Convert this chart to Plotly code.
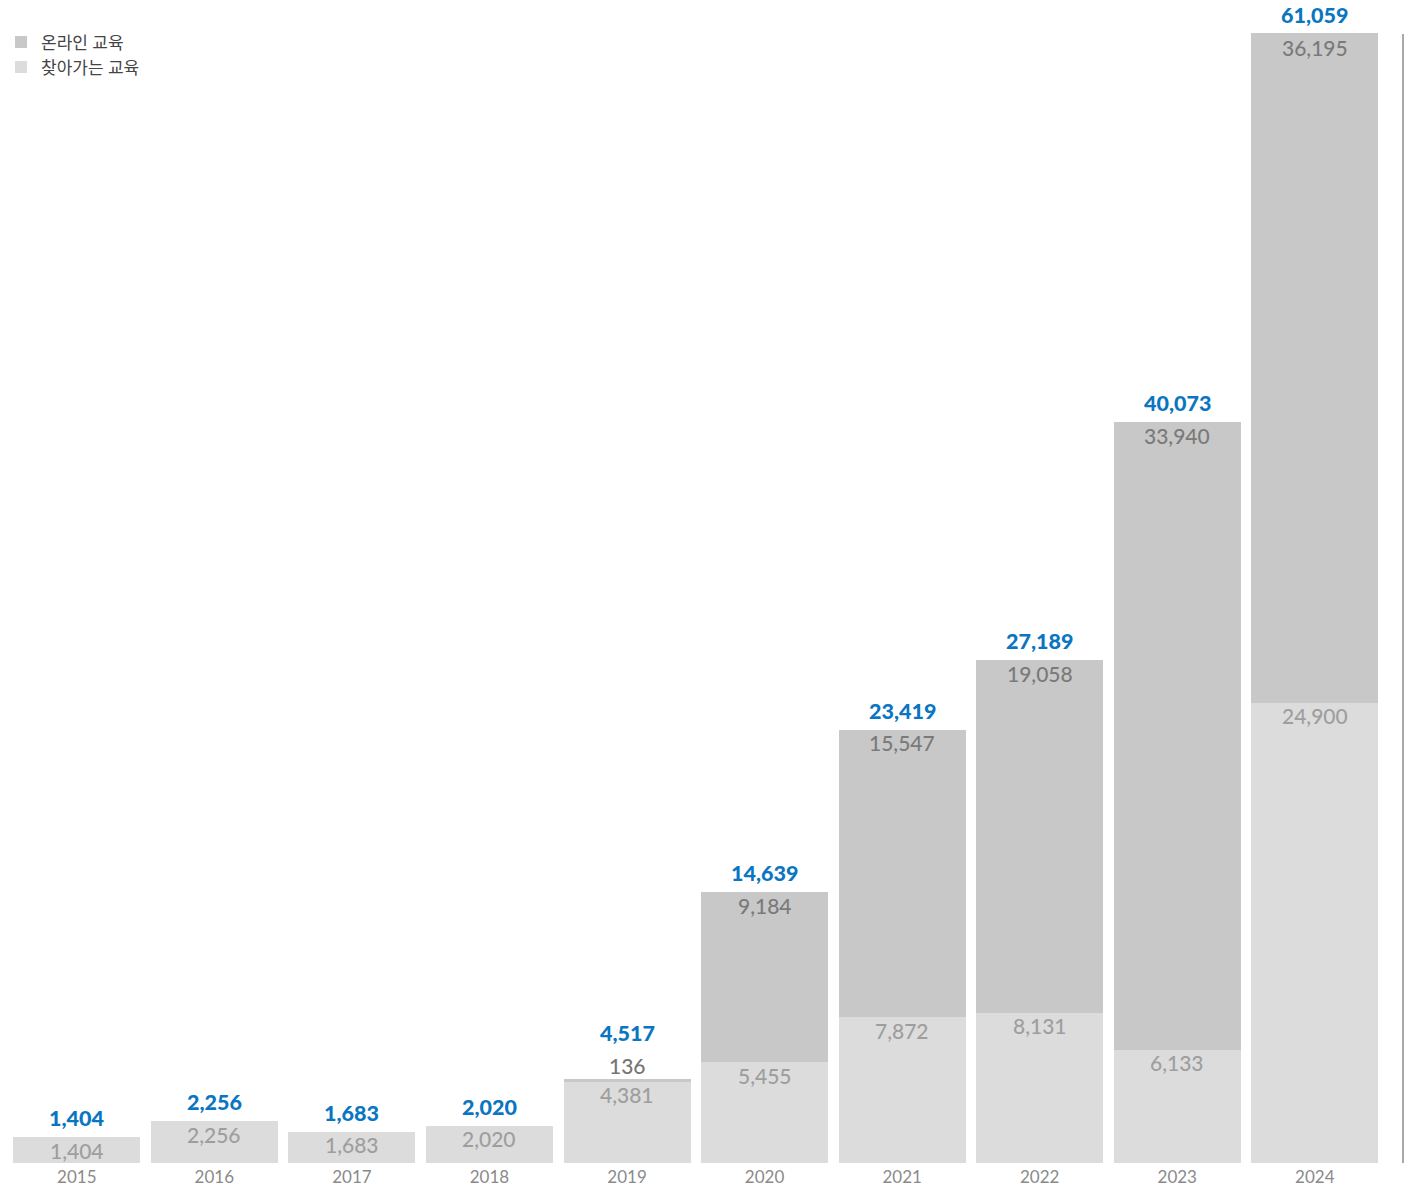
import plotly.graph_objects as go

years = ["2015", "2016", "2017", "2018", "2019", "2020", "2021", "2022", "2023", "2024"]
offline = [1404, 2256, 1683, 2020, 4381, 5455, 7872, 8131, 6133, 24900]
online = [0, 0, 0, 0, 136, 9184, 15547, 19058, 33940, 36195]
totals = [1404, 2256, 1683, 2020, 4517, 14639, 23419, 27189, 40073, 61059]

FONT = "Lato, 'Noto Sans CJK KR', sans-serif"
NUMFONT = "Lato, 'Noto Sans CJK KR', sans-serif"
C_ON = "#c8c8c8"
C_OFF = "#dcdcdc"

H = 1188
plot_h = 1163
ymax = max(totals) * plot_h / 1129.0

fig = go.Figure()
fig.add_trace(go.Bar(x=years, y=offline, name="찾아가는 교육", marker_color=C_OFF,
                     marker_line_width=0, hoverinfo="skip"))
fig.add_trace(go.Bar(x=years, y=online, name="온라인 교육", marker_color=C_ON,
                     marker_line_width=0, hoverinfo="skip"))

px_per = plot_h / ymax
for i, yr in enumerate(years):
    off, on, tot = offline[i], online[i], totals[i]
    fig.add_annotation(x=i, y=off, text=f"{off:,}", showarrow=False, yanchor="middle",
                       yshift=-13, font=dict(family=NUMFONT, size=21, weight=500, color="#9e9e9e"))
    extra = 0
    if on > 0:
        if on * px_per < 25:
            fig.add_annotation(x=i, y=tot, text=f"{on:,}", showarrow=False, yanchor="middle",
                               yshift=14, font=dict(family=NUMFONT, size=21, weight=500, color="#757575"))
            extra = 27
        else:
            fig.add_annotation(x=i, y=tot, text=f"{on:,}", showarrow=False, yanchor="middle",
                               yshift=-13, font=dict(family=NUMFONT, size=21, weight=500, color="#7a7a7a"))
    fig.add_annotation(x=i, y=tot, text=f"{tot:,}", showarrow=False, yanchor="middle",
                       yshift=19 + extra, font=dict(family=NUMFONT, size=21.5, weight=900, color="#0a76c2"))

fig.add_shape(type="line", xref="paper", yref="y", x0=1, x1=1, y0=0, y1=max(totals),
              line=dict(color="#8c8c8c", width=1.5))

fig.update_layout(
    width=1408, height=H,
    barmode="stack", bargap=0.077,
    margin=dict(l=8, r=5, t=0, b=25),
    paper_bgcolor="white", plot_bgcolor="white",
    font=dict(family=FONT),
    showlegend=True,
    legend=dict(x=-0.005, y=0.979, xanchor="left", yanchor="top", traceorder="reversed",
                font=dict(family=FONT, size=17, color="#444444"), bgcolor="rgba(0,0,0,0)",
                itemwidth=30, tracegroupgap=0),
    xaxis=dict(type="category", range=[-0.5, 9.641], showgrid=False, showline=False,
               zeroline=False, ticks="", ticklabelstandoff=2,
               tickfont=dict(family=FONT, size=17, color="#8a8a8a"), automargin=False),
    yaxis=dict(range=[0, ymax], showgrid=False, showline=False, zeroline=False,
               showticklabels=False, ticks=""),
)

fig.write_html("out.html")
